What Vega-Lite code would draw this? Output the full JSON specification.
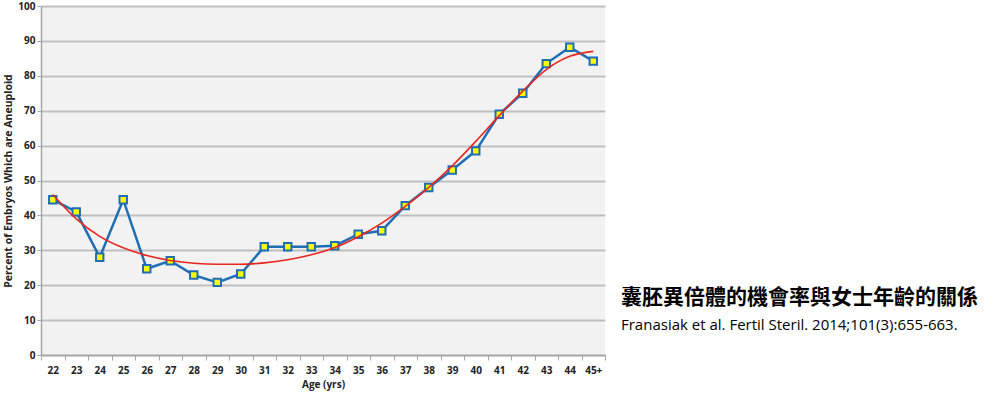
{
  "$schema": "https://vega.github.io/schema/vega-lite/v6.json",
  "width": 564,
  "height": 349,
  "autosize": "none",
  "padding": {"left": 41, "top": 6, "right": 394, "bottom": 42},
  "background": "white",
  "title": {
    "text": "囊胚異倍體的機會率與女士年齡的關係",
    "subtitle": "Franasiak et al. Fertil Steril. 2014;101(3):655-663.",
    "orient": "top",
    "anchor": "start",
    "frame": "group",
    "dx": 580,
    "dy": 336,
    "font": "Noto Sans CJK TC",
    "fontSize": 21,
    "fontWeight": "bold",
    "color": "#000000",
    "subtitleFont": "Open Sans",
    "subtitleFontSize": 15,
    "subtitleColor": "#000000",
    "subtitlePadding": 10
  },
  "data": {
    "values": [
      {"age": "22", "pct": 44.5, "fit": 46.0},
      {"age": "23", "pct": 41.0, "fit": 39.0},
      {"age": "24", "pct": 28.0, "fit": 34.0},
      {"age": "25", "pct": 44.5, "fit": 30.7},
      {"age": "26", "pct": 24.7, "fit": 28.5},
      {"age": "27", "pct": 27.0, "fit": 27.1},
      {"age": "28", "pct": 22.9, "fit": 26.3},
      {"age": "29", "pct": 20.8, "fit": 26.0},
      {"age": "30", "pct": 23.2, "fit": 26.0},
      {"age": "31", "pct": 31.0, "fit": 26.4},
      {"age": "32", "pct": 31.0, "fit": 27.3},
      {"age": "33", "pct": 31.0, "fit": 28.7},
      {"age": "34", "pct": 31.3, "fit": 30.8},
      {"age": "35", "pct": 34.6, "fit": 33.9},
      {"age": "36", "pct": 35.6, "fit": 37.8},
      {"age": "37", "pct": 42.8, "fit": 42.6},
      {"age": "38", "pct": 48.0, "fit": 48.0},
      {"age": "39", "pct": 53.0, "fit": 54.2},
      {"age": "40", "pct": 58.5, "fit": 61.2},
      {"age": "41", "pct": 69.0, "fit": 68.6},
      {"age": "42", "pct": 75.0, "fit": 75.6},
      {"age": "43", "pct": 83.5, "fit": 81.8},
      {"age": "44", "pct": 88.2, "fit": 85.6},
      {"age": "45+", "pct": 84.2, "fit": 87.0}
    ]
  },
  "encoding": {
    "x": {
      "field": "age",
      "type": "ordinal",
      "sort": null,
      "scale": {"type": "band", "paddingInner": 0, "paddingOuter": 0},
      "axis": {
        "title": "Age (yrs)",
        "labelAngle": 0,
        "labelFont": "Open Sans",
        "labelFontWeight": "bold",
        "labelFontSize": 10,
        "labelColor": "#222222",
        "labelPadding": 5,
        "titleFont": "Open Sans",
        "titleFontWeight": "bold",
        "titleFontSize": 10,
        "titleColor": "#222222",
        "titlePadding": 4,
        "tickBand": "extent",
        "tickColor": "#a6a6a6",
        "tickSize": 5,
        "domainColor": "#a6a6a6",
        "domainWidth": 1.5,
        "grid": false
      }
    },
    "y": {
      "field": "pct",
      "type": "quantitative",
      "scale": {"domain": [0, 100], "nice": false},
      "axis": {
        "title": "Percent of Embryos Which are Aneuploid",
        "values": [0, 10, 20, 30, 40, 50, 60, 70, 80, 90, 100],
        "labelFont": "Open Sans",
        "labelFontWeight": "bold",
        "labelFontSize": 10,
        "labelColor": "#222222",
        "labelPadding": 2,
        "titleFont": "Open Sans",
        "titleFontWeight": "bold",
        "titleFontSize": 10.5,
        "titleColor": "#222222",
        "titlePadding": 4,
        "gridColor": "#bfbfbf",
        "gridWidth": 2,
        "tickColor": "#a6a6a6",
        "tickSize": 4,
        "domainColor": "#a6a6a6",
        "domainWidth": 1.5
      }
    }
  },
  "layer": [
    {
      "mark": {"type": "line", "color": "#1f6db4", "strokeWidth": 2.5}
    },
    {
      "mark": {"type": "point", "shape": "square", "filled": false, "fill": "#ffff00", "stroke": "#1f6db4", "strokeWidth": 2, "size": 55, "opacity": 1}
    },
    {
      "mark": {"type": "line", "color": "#e8261e", "strokeWidth": 1.6, "interpolate": "monotone"},
      "encoding": {
        "y": {
          "field": "fit",
          "type": "quantitative",
          "scale": {"domain": [0, 100], "nice": false},
          "axis": {
            "title": "Percent of Embryos Which are Aneuploid",
            "values": [0, 10, 20, 30, 40, 50, 60, 70, 80, 90, 100],
            "labelFont": "Open Sans",
            "labelFontWeight": "bold",
            "labelFontSize": 10,
            "labelColor": "#222222",
            "labelPadding": 2,
            "titleFont": "Open Sans",
            "titleFontWeight": "bold",
            "titleFontSize": 10.5,
            "titleColor": "#222222",
            "titlePadding": 4,
            "gridColor": "#bfbfbf",
            "gridWidth": 2,
            "tickColor": "#a6a6a6",
            "tickSize": 4,
            "domainColor": "#a6a6a6",
            "domainWidth": 1.5
          }
        }
      }
    }
  ],
  "config": {
    "view": {"fill": "#f2f2f2", "stroke": null}
  }
}
